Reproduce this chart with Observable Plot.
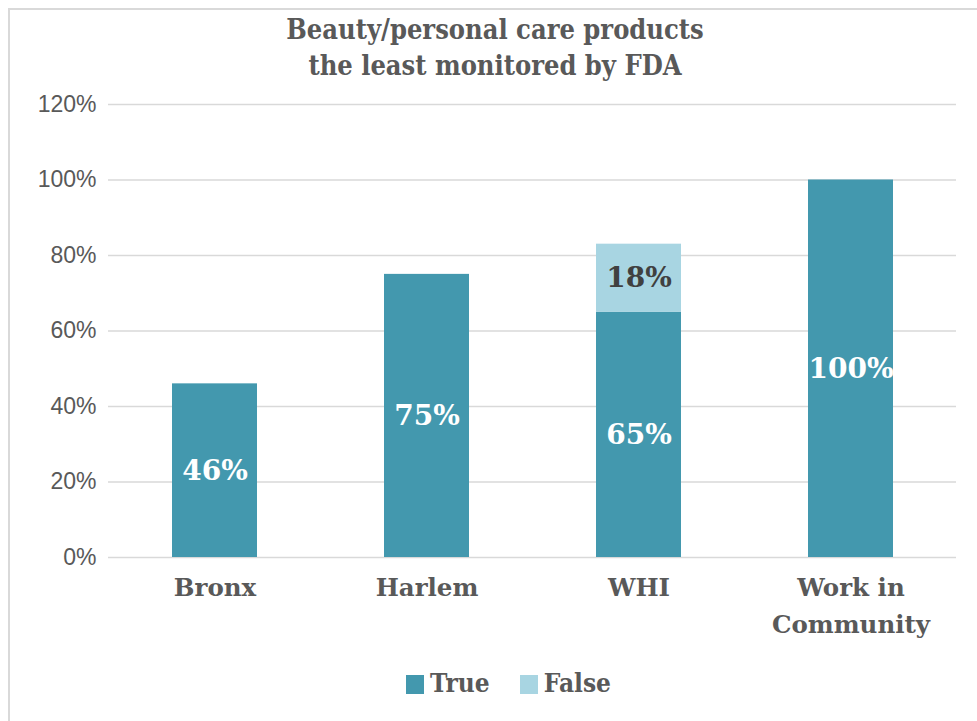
<!DOCTYPE html>
<html>
<head>
<meta charset="utf-8">
<script src="https://cdn.jsdelivr.net/npm/d3@7"></script>
<script src="https://cdn.jsdelivr.net/npm/@observablehq/plot@0.6"></script>
<style>
  html, body { margin: 0; padding: 0; background: #fff; }
  #wrap { position: relative; width: 977px; height: 721px; overflow: hidden; background: #fff; }
  #frame { position: absolute; left: 8px; top: 8px; width: 1000px; height: 800px;
           border-left: 2px solid #d9d9d9; border-top: 2px solid #d9d9d9; }
  #title { position: absolute; left: 0; top: 12px; width: 990px; text-align: center;
           font-family: "DejaVu Serif", serif; font-weight: bold; font-size: 27px;
           color: #595959; line-height: 36px; font-stretch: condensed; }
  #legend { position: absolute; top: 668px; left: 20px; width: 977px; display: flex; justify-content: center;
            gap: 30px; font-family: "DejaVu Serif", serif; font-weight: bold; font-size: 26px; color: #595959;
            font-stretch: condensed; line-height: 30px; }
  #legend span.item { display: flex; align-items: center; }
  #legend span.sw { display: inline-block; width: 18px; height: 19px; margin-right: 6px; margin-top: 2px; }
  #chart { position: absolute; left: 0; top: 0; }
</style>
</head>
<body>
<div id="wrap">
  <div id="frame"></div>
  <div id="chart"></div>
  <div id="title">Beauty/personal care products<br>the least monitored by FDA</div>
  <div id="legend"></div>
</div>
<script>
const categories = ["Bronx", "Harlem", "WHI", "Work in Community"];
const categoryLabels = ["Bronx", "Harlem", "WHI", "Work in\nCommunity"];
const seriesNames = ["True", "False"];
const trueValues = [46, 75, 65, 100];
const falseValues = [null, null, 18, null];
const yTicks = [0, 20, 40, 60, 80, 100, 120];
const colors = ["#4398ae", "#a8d5e2"];

const rows = [];
categories.forEach((c, i) => {
  let base = 0;
  [trueValues[i], falseValues[i]].forEach((v, k) => {
    if (v != null) {
      rows.push({cat: c, series: seriesNames[k], value: v, y1: base, y2: base + v, mid: base + v / 2});
      base += v;
    }
  });
});

const serif = "'DejaVu Serif', serif";
const chart = Plot.plot({
  width: 977,
  height: 721,
  marginTop: 104,
  marginBottom: 164,
  marginLeft: 108,
  marginRight: 21,
  style: {background: "transparent", color: "#595959"},
  x: {domain: categories, paddingInner: 0.6, paddingOuter: 0.3, label: null},
  y: {domain: [0, 120], label: null},
  color: {domain: seriesNames, range: colors},
  marks: [
    Plot.gridY(yTicks, {stroke: "#d9d9d9", strokeOpacity: 1, strokeWidth: 1.5}),
    Plot.axisY(yTicks, {tickSize: 0, tickPadding: 12, tickFormat: d => d + "%", fontSize: 23,
      fontFamily: "'Liberation Sans', sans-serif", fill: "#595959", label: null}),
    Plot.axisX({tickSize: 0, tickPadding: 13, tickFormat: (d) => categoryLabels[categories.indexOf(d)],
      fontSize: 24.5, fontWeight: "bold", fontFamily: serif, fill: "#595959", lineHeight: 1.48,
      label: null, ariaLabel: "x-axis tick label"}),
    Plot.rectY(rows, {x: "cat", y1: "y1", y2: "y2", fill: "series"}),
    Plot.text(rows, {x: "cat", y: "mid", text: d => d.value + "%",
      fill: d => d.series === "True" ? "#ffffff" : "#404040",
      fontSize: 28, fontWeight: "bold", fontFamily: serif})
  ]
});
d3.select(chart).selectAll("g[aria-label='x-axis tick label'] text").style("font-stretch", "condensed");
document.getElementById("chart").appendChild(chart);

const legend = document.getElementById("legend");
seriesNames.forEach((s, i) => {
  const item = document.createElement("span");
  item.className = "item";
  const sw = document.createElement("span");
  sw.className = "sw";
  sw.style.background = colors[i];
  item.appendChild(sw);
  item.appendChild(document.createTextNode(s));
  legend.appendChild(item);
});
</script>
</body>
</html>
